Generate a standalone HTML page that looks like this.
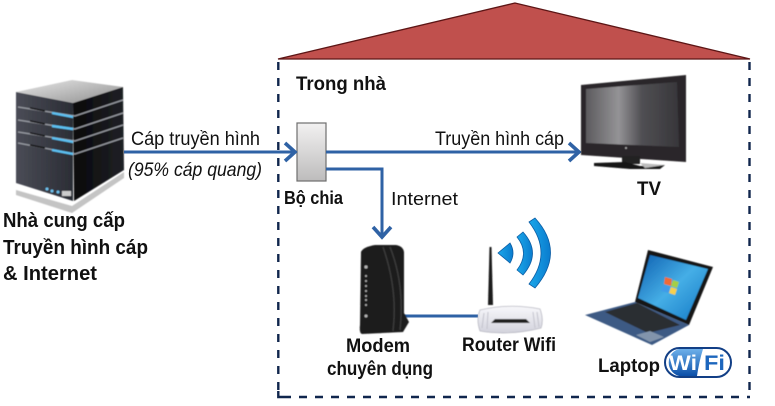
<!DOCTYPE html>
<html><head><meta charset="utf-8"><style>
html,body{margin:0;padding:0;background:#fff}
svg{display:block}
text{font-family:"Liberation Sans",sans-serif;fill:#111}
.b{font-weight:bold}
</style></head><body>
<svg width="775" height="406" viewBox="0 0 775 406" xmlns="http://www.w3.org/2000/svg">
<defs>
<linearGradient id="srv" x1="0" y1="0" x2="1" y2="0"><stop offset="0" stop-color="#4a4c56"/><stop offset="1" stop-color="#2b2d35"/></linearGradient>
<linearGradient id="srvr" x1="0" y1="0" x2="1" y2="0"><stop offset="0" stop-color="#08080a"/><stop offset="1" stop-color="#202126"/></linearGradient>
<linearGradient id="top" x1="0" y1="0" x2="1" y2="1"><stop offset="0" stop-color="#e8e8e8"/><stop offset="1" stop-color="#8e8e8e"/></linearGradient>
<linearGradient id="box" x1="0" y1="0" x2="0" y2="1"><stop offset="0" stop-color="#f2f1f1"/><stop offset="1" stop-color="#bdbcbc"/></linearGradient>
<linearGradient id="scr" x1="0" y1="0" x2="1" y2="0"><stop offset="0" stop-color="#5c5b5e"/><stop offset=".35" stop-color="#949396"/><stop offset=".6" stop-color="#504f53"/><stop offset="1" stop-color="#37363a"/></linearGradient>
<linearGradient id="lap" x1="0" y1="0" x2="1" y2="1"><stop offset="0" stop-color="#0e5fb0"/><stop offset=".5" stop-color="#45aee6"/><stop offset="1" stop-color="#1277c4"/></linearGradient>
<linearGradient id="wf" x1="0" y1="0" x2="0" y2="1"><stop offset="0" stop-color="#6db0ea"/><stop offset="1" stop-color="#0b4fa8"/></linearGradient>
<linearGradient id="rt" x1="0" y1="0" x2="0" y2="1"><stop offset="0" stop-color="#f8f8fb"/><stop offset="1" stop-color="#d2d2dc"/></linearGradient>
<linearGradient id="wv" x1="0" y1="0" x2="1" y2="0"><stop offset="0" stop-color="#1ba7ea"/><stop offset="1" stop-color="#0a7cce"/></linearGradient>
<filter id="s" x="-5%" y="-5%" width="110%" height="110%"><feGaussianBlur stdDeviation=".45"/></filter>
</defs>

<!-- roof -->
<polygon points="515,3 278,59 750,59" fill="#c0504d" stroke="#5c1515" stroke-width="1.3"/>
<!-- dashed walls -->
<g fill="none" stroke="#10264d" stroke-width="2.4" stroke-dasharray="8 8">
<path d="M278.300 62V397"/>
<path d="M749.500 62V397"/>
<path d="M278 397H750" stroke-dashoffset="-5"/>
</g>
<path d="M278.300 391V397H283" fill="none" stroke="#10264d" stroke-width="2.4"/>

<!-- server -->
<g filter="url(#s)">
<polygon points="16,92 72,80 123,87 73,103" fill="url(#top)"/>
<polygon points="16,190 72,206 124,172 124,178 72,213 16,195" fill="#c4c4c4"/>
<polygon points="16,92 73,103 73,201 16,183" fill="url(#srv)"/>
<polygon points="73,103 123,87 124,170 74,201" fill="url(#srvr)"/>
<g fill="none" stroke="#9a9da4" stroke-width="1.3">
<path d="M18 107 75 116 123 100M18 120 75 129 123 113M18 132 75 141 123 125M18 143 75 154 123 138"/>
</g>
<g fill="none" stroke="#111" stroke-width="1.5">
<path d="M30 108 45 111M30 121 45 124M30 133 45 136M30 145 45 148"/>
</g>
<g fill="none" stroke="#5cc0f2" stroke-width="2.4">
<path d="M52 113 73 117M52 126 73 129M52 138 73 142M52 150 73 154"/>
</g>
<g fill="#6fc3f0"><circle cx="47" cy="189" r="1.5"/><circle cx="52" cy="191" r="1.5"/><circle cx="58" cy="192" r="1.5"/></g>
<rect x="62" y="191" width="9" height="5" fill="#ccc"/>
</g>

<!-- splitter -->
<rect x="297" y="123" width="29" height="58" fill="url(#box)" stroke="#6e6e6e" stroke-width="1.2"/>

<!-- connectors -->
<g fill="none" stroke="#2f62a5" stroke-width="3">
<path d="M124 152H294"/>
<path d="M285 143 295 152 285 161" stroke-width="3.600"/>
<path d="M326 152H578"/>
<path d="M569 143 579 152 569 161" stroke-width="3.600"/>
<path d="M326 169H382V236"/>
<path d="M373 227 382 237 391 227" stroke-width="3.600"/>
<path d="M403 316H478"/>
</g>

<!-- TV -->
<g filter="url(#s)">
<polygon points="581,85 686,75 686,162 581,155" fill="#2a2729"/>
<polygon points="586,89 677,82 679,147 586,143" fill="url(#scr)"/>
<rect x="622" y="156" width="18" height="8" fill="#222"/>
<polygon points="594,163 625,162 640,166 665,165 660,169 630,169 594,166" fill="#151515"/>
<polygon points="640,163 665,165 645,168" fill="#bcbcbc"/>
<circle cx="626" cy="148" r="1" fill="#aaa"/>
</g>

<!-- modem -->
<g filter="url(#s)">
<path d="M361 252Q363 247 375 245L396 245Q403 246 404 252V313L409 322 403 332 362 334Q359 333 360 325Z" fill="#1f1f1f"/>
<path d="M383 247Q398 290 393 331M390 247Q405 285 400 330" stroke="#3a3a3a" fill="none" stroke-width="1.4"/>
<g fill="#b5b5b5"><circle cx="366" cy="267" r="1.6"/><circle cx="366" cy="276" r="1"/><circle cx="366" cy="281" r="1"/><circle cx="366" cy="286" r="1"/><circle cx="366" cy="291" r="1"/><circle cx="366" cy="296" r="1"/><circle cx="366" cy="300" r="1"/><circle cx="366" cy="305" r="1"/><circle cx="366" cy="316" r="1.5"/></g>
</g>

<!-- router -->
<g filter="url(#s)">
<path d="M488 305 489.500 247H491.500L493 305Z" fill="#1c1c1c"/>
<path d="M480 310Q510 303 540 309Q544 320 541 328Q510 336 480 331Q476 320 480 310Z" fill="url(#rt)" stroke="#b8b8c2" stroke-width=".8"/>
<path d="M495 319H526L530 323H491Z" fill="#222"/>
<path d="M484 313 482 328M488 312 487 329M533 312 535 328M537 312 539 327" stroke="#c2c2cc" stroke-width="1"/>
</g>

<!-- wifi waves -->
<g fill="url(#wv)" stroke="#0b5da5" stroke-width=".8">
<path d="M510 243 498 253 510 263Q516 253 510 243Z"/>
<path d="M517 237 523 232Q542 253 523 275L517 270Q530 253 517 237Z"/>
<path d="M529 222 535 218Q566 252 535 288L529 284Q553 253 529 222Z"/>
</g>

<!-- laptop -->
<g filter="url(#s)">
<polygon points="585,315 635,302 689,325 652,345" fill="#3d5a84"/>
<polygon points="648,250 713,267 689,325 635,302" fill="#141414"/>
<polygon points="650,255 708,269 686,320 638,298" fill="url(#lap)"/>
<polygon points="605,312 637,303 680,325 648,333" fill="#2a2d33"/>
<polygon points="636,335 650,331 664,337 650,342" fill="#8294ac"/>
<polygon points="665,277 672,279 671,286 664,284" fill="#f06a35"/><polygon points="673,280 679,282 677,288 671,286" fill="#a5cf45"/><polygon points="663,285 670,287 669,293 661,291" fill="#3f9be8"/><polygon points="671,287 677,289 675,295 669,293" fill="#f7d04b"/>
</g>

<!-- wifi badge -->
<rect x="665" y="348" width="66" height="29" rx="14.500" fill="#fff" stroke="#123f86" stroke-width="2"/>
<path d="M679 349H703Q699 362 697 376H679A14 14 0 0 1 679 349Z" fill="url(#wf)"/>
<text x="669" y="370" font-size="21" class="b" style="fill:#fff" textLength="28" lengthAdjust="spacingAndGlyphs">Wi</text>
<text x="704" y="370" font-size="21" class="b" style="fill:#1c66bd" textLength="21" lengthAdjust="spacingAndGlyphs">Fi</text>

<!-- labels -->
<text x="131" y="145" font-size="19" textLength="129" lengthAdjust="spacingAndGlyphs">Cáp truyền hình</text>
<text x="128" y="176" font-size="19" font-style="italic" textLength="134" lengthAdjust="spacingAndGlyphs">(95% cáp quang)</text>
<text x="3" y="227" font-size="20" class="b" textLength="122" lengthAdjust="spacingAndGlyphs">Nhà cung cấp</text>
<text x="3" y="254" font-size="20" class="b" textLength="145" lengthAdjust="spacingAndGlyphs">Truyền hình cáp</text>
<text x="3" y="280" font-size="20" class="b" textLength="94" lengthAdjust="spacingAndGlyphs">&amp; Internet</text>
<text x="296" y="90" font-size="19" class="b" textLength="90" lengthAdjust="spacingAndGlyphs">Trong nhà</text>
<text x="284" y="204" font-size="18" class="b" textLength="59" lengthAdjust="spacingAndGlyphs">Bộ chia</text>
<text x="391" y="205" font-size="18" textLength="67" lengthAdjust="spacingAndGlyphs">Internet</text>
<text x="435" y="145" font-size="19" textLength="129" lengthAdjust="spacingAndGlyphs">Truyền hình cáp</text>
<text x="637" y="195" font-size="19" class="b" textLength="24" lengthAdjust="spacingAndGlyphs">TV</text>
<text x="346" y="352" font-size="19" class="b" textLength="64" lengthAdjust="spacingAndGlyphs">Modem</text>
<text x="327" y="375" font-size="19" class="b" textLength="106" lengthAdjust="spacingAndGlyphs">chuyên dụng</text>
<text x="462" y="351" font-size="19" class="b" textLength="94" lengthAdjust="spacingAndGlyphs">Router Wifi</text>
<text x="598" y="372" font-size="19" class="b" textLength="62" lengthAdjust="spacingAndGlyphs">Laptop</text>
</svg>
</body></html>
